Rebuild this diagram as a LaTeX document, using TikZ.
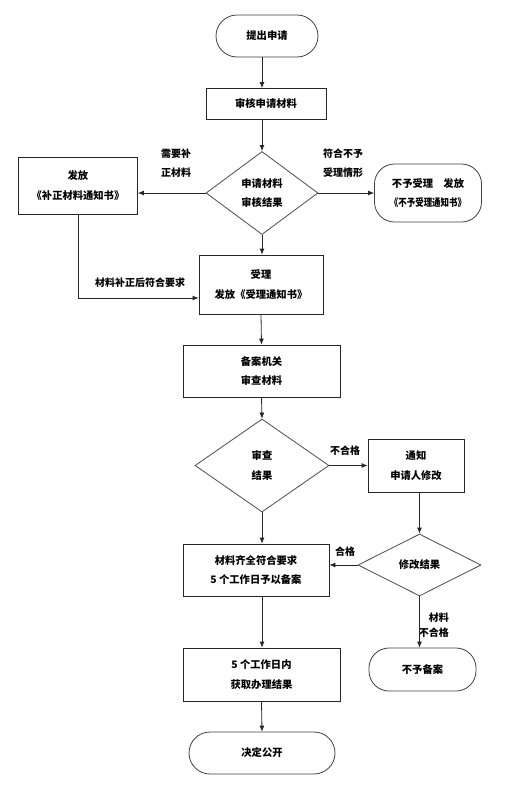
\documentclass[tikz,border=0pt]{standalone}
\usepackage{fontspec}
\setmainfont{Noto Sans CJK SC}
\usetikzlibrary{shapes.geometric,arrows.meta}
\begin{document}
\begin{tikzpicture}[x=1pt,y=-1pt,
  every node/.style={font=\bfseries\fontsize{10.3}{19.5}\selectfont, align=center, inner sep=0pt},
  box/.style={draw=black!85, line width=0.8pt},
  term/.style={draw=black!75, line width=0.8pt},
  dia/.style={draw=black!70, line width=0.8pt, diamond},
  lbl/.style={font=\bfseries\fontsize{10}{19.5}\selectfont},
  arr/.style={draw=black!85, line width=0.8pt, -{Latex[length=6pt,width=5pt]}}]
\useasboundingbox (0,0) rectangle (513,790);
% nodes
\node[term, minimum width=102pt, minimum height=42pt, rounded corners=21pt] (start) at (267,36) {提出申请};
\node[box, minimum width=120pt, minimum height=31pt] (check) at (266,104) {审核申请材料};
\node[dia, minimum width=112pt, minimum height=83pt, aspect=1.35] (d1) at (262,193) {申请材料\\审核结果};
\node[box, minimum width=119pt, minimum height=57pt] (fix) at (78,185.5) {发放\\《补正材料通知书》};
\node[term, minimum width=107pt, minimum height=58pt, rounded corners=20pt] (reject) at (428,193)
  {不予受理\quad 发放\\\scalebox{0.82}[1]{《不予受理通知书》}};
\node[box, minimum width=124pt, minimum height=59pt] (accept) at (261,284.5) {受理\\发放《受理通知书》};
\node[box, minimum width=157pt, minimum height=52pt] (review) at (261.5,371) {备案机关\\审查材料};
\node[dia, minimum width=134pt, minimum height=93pt, aspect=1.44] (d2) at (262,465.5) {审查\\结果};
\node[box, minimum width=96pt, minimum height=53pt] (notify) at (416,465.5) {通知\\申请人修改};
\node[dia, minimum width=123pt, minimum height=62pt, aspect=1.98] (d3) at (419.5,565) {修改结果};
\node[box, minimum width=146pt, minimum height=52pt] (file) at (256,570) {材料齐全符合要求\\5 个工作日予以备案};
\node[box, minimum width=157pt, minimum height=53pt] (result) at (261.5,674.5) {5 个工作日内\\获取办理结果};
\node[term, minimum width=146pt, minimum height=42pt, rounded corners=21pt] (public) at (262,753) {决定公开};
\node[term, minimum width=107pt, minimum height=43pt, rounded corners=20pt] (nofile) at (422.5,669.5) {不予备案};
% labels
\node[lbl] (l1) at (176,163) {需要补\\正材料};
\node[lbl] (l2) at (343,163) {符合不予\\受理情形};
\node[lbl] (l3) at (140,283) {材料补正后符合要求};
\node[lbl] (l4) at (345,451) {不合格};
\node[lbl] (l5) at (345,552) {合格};
\node[lbl, align=right, anchor=east, font=\bfseries\fontsize{10}{15}\selectfont] (l6) at (449,625) {材料\\不合格};
% connectors
\draw[arr] (d1.north |- start.south) -- (d1.north |- check.north);
\draw[arr] (d1.north |- check.south) -- (d1.north);
\draw[arr] (d1.west) -- (fix.east |- d1.west);
\draw[arr] (d1.east) -- (reject.west);
\draw[arr] (d1.south) -- (d1.south |- accept.north);
\draw[arr] (fix.south) |- ([yshift=-13.5pt]accept.west);
\draw[arr] (accept.south) -- (review.north);
\draw[arr] (review.south) -- (d2.north);
\draw[arr] (d2.east) -- (notify.west);
\draw[arr] (d3.north |- notify.south) -- (d3.north);
\draw[arr] (d3.west) -- (d3.west -| file.east);
\draw[arr] (d2.south) -- (d2.south |- file.north);
\draw[arr] (d2.south |- file.south) -- (d2.south |- result.north);
\draw[arr] (result.south) -- (public.north);
\draw[arr] (d3.south) -- (d3.south |- nofile.north);
\end{tikzpicture}
\end{document}
